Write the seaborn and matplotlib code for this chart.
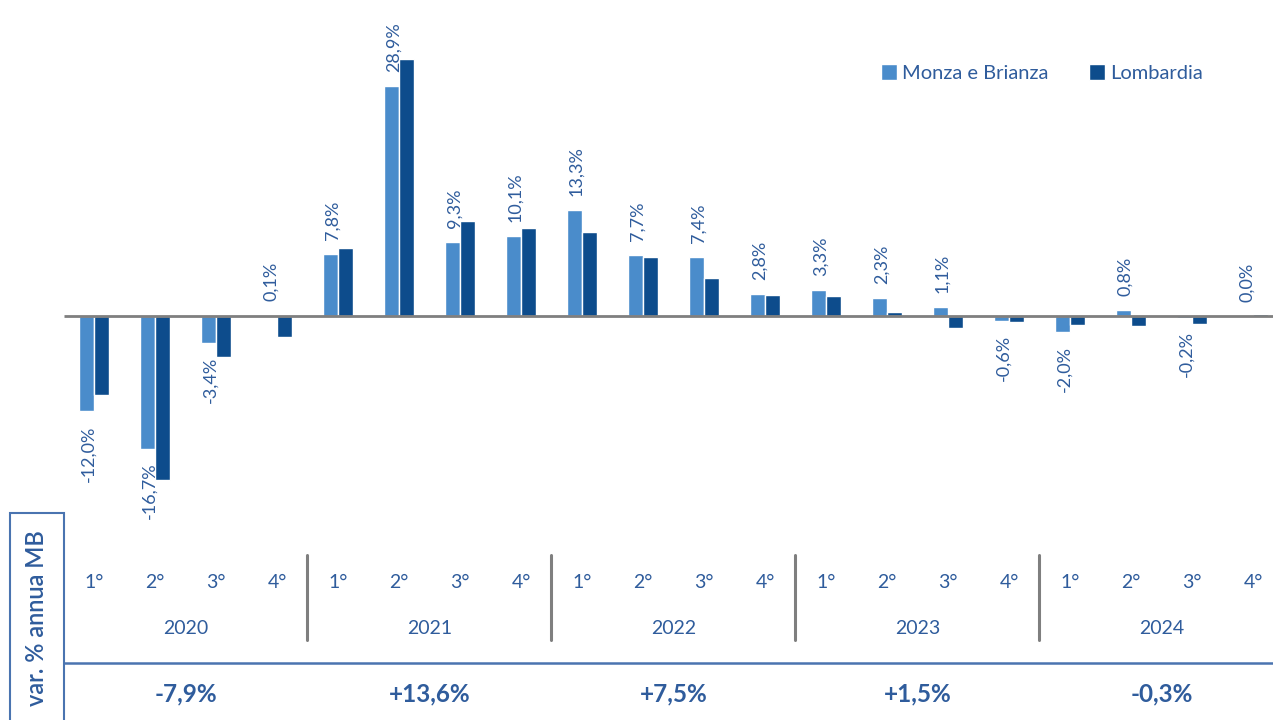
import matplotlib
matplotlib.use("Agg")
import matplotlib.pyplot as plt
import matplotlib.transforms as mtransforms
from matplotlib.patches import Rectangle
import numpy as np
import pandas as pd
import seaborn as sns

# Quarterly year-on-year change (%)
years = ["2020", "2021", "2022", "2023", "2024"]
quarters = ["1°", "2°", "3°", "4°"]
monza_brianza = [-12.0, -16.7, -3.4, 0.1,
                 7.8, 28.9, 9.3, 10.1,
                 13.3, 7.7, 7.4, 2.8,
                 3.3, 2.3, 1.1, -0.6,
                 -2.0, 0.8, -0.2, 0.0]
lombardia = [-10.0, -20.6, -5.1, -2.6,
             8.6, 32.3, 11.9, 11.1,
             10.6, 7.4, 4.8, 2.7,
             2.5, 0.5, -1.5, -0.8,
             -1.1, -1.2, -1.0, 0.2]
annual_mb = ["-7,9%", "+13,6%", "+7,5%", "+1,5%", "-0,3%"]
series_names = ["Monza e Brianza", "Lombardia"]

LIGHT = "#4A8CCB"
DARK = "#0D4C8C"
TEXT = "#2F5C9C"
GRID = "#7F7F7F"
RULE = "#4A74B0"

W, H = 1273, 720
sns.set_theme(style="white")
plt.rcParams["font.family"] = ["Lato", "DejaVu Sans"]

periods = [f"{y} {q}" for y in years for q in quarters]
df = pd.DataFrame({
    "periodo": periods * 2,
    "serie": [series_names[0]] * 20 + [series_names[1]] * 20,
    "var": monza_brianza + lombardia,
})

fig = plt.figure(figsize=(W / 100, H / 100), dpi=100)
ax = fig.add_axes([0, 0, 1, 1])
sns.barplot(data=df, x="periodo", y="var", hue="serie", order=periods,
            hue_order=series_names, palette=[LIGHT, DARK], saturation=1,
            width=0.49, ax=ax, legend=True)

ax.set_xlim(-1.541, 19.328)
ax.set_ylim(-50.82, 39.75)
ax.axis("off")

# zero line
ax.plot([-0.49, 19.4], [0, 0], color=GRID, lw=2, zorder=5, solid_capstyle="butt")

# value labels for Monza e Brianza
for i, v in enumerate(monza_brianza):
    lab = f"{v:.1f}".replace(".", ",") + "%"
    xi = i - 0.1225 + 0.03
    ax.annotate(lab, (xi, v), xytext=(0, 10 if v >= 0 else -10),
                textcoords="offset points", rotation=90, ha="center",
                va="bottom" if v >= 0 else "top", color=TEXT, fontsize=13)

# table below the chart: quarters, years and annual change
tr = mtransforms.blended_transform_factory(ax.transData, fig.transFigure)
def fy(px):
    return 1 - px / H

for i, p in enumerate(periods):
    ax.text(i, fy(583), quarters[i % 4], transform=tr, ha="center", va="center",
            color=TEXT, fontsize=14)
for k, y in enumerate(years):
    c = 4 * k + 1.5
    ax.text(c, fy(629), y, transform=tr, ha="center", va="center",
            color=TEXT, fontsize=14)
    ax.text(c, fy(694), annual_mb[k], transform=tr, ha="center", va="center",
            color=TEXT, fontsize=17.5, fontweight="bold")
    if k > 0:
        ax.plot([4 * k - 0.5] * 2, [fy(555), fy(640)], transform=tr,
                color=GRID, lw=2.2, clip_on=False)

ax.plot([-0.49, 19.4], [fy(663), fy(663)], transform=tr, color=RULE, lw=1.8,
        clip_on=False)

# side caption box
fig.patches.append(Rectangle((10 / W, -0.01), 54 / W, fy(513) + 0.01,
                             transform=fig.transFigure, fill=False,
                             edgecolor=RULE, lw=1.5))
fig.text(37 / W, fy(618), "var. % annua MB", rotation=90, ha="center",
         va="center", color=TEXT, fontsize=17, fontweight="semibold")

# legend
handles, labels = ax.get_legend_handles_labels()
ax.legend(handles, labels, loc="center left", bbox_to_anchor=(881 / W, fy(73)),
          bbox_transform=fig.transFigure, ncol=2, frameon=False,
          handlelength=0.8, handleheight=0.8, handletextpad=0.25,
          columnspacing=2.0, borderpad=0, borderaxespad=0,
          fontsize=14.5, labelcolor=TEXT)

fig.savefig("out.png", dpi=100, facecolor="white")
